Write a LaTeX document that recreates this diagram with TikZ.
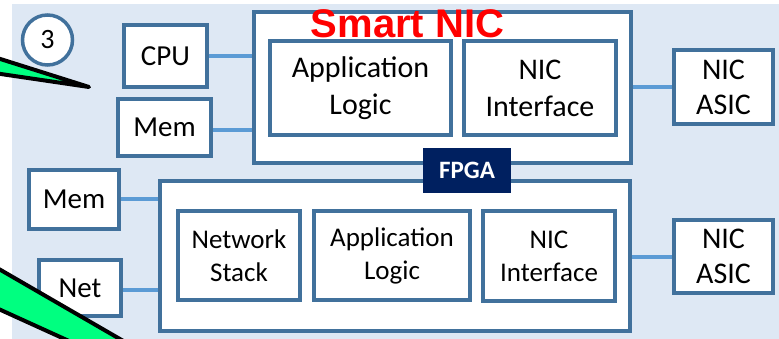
\documentclass[tikz,border=0pt]{standalone}
\usepackage{fontspec}
\setmainfont{Carlito}
\newfontfamily\headfont{Liberation Sans}
\usetikzlibrary{calc}
\definecolor{edgeblue}{HTML}{41719C}
\definecolor{linkblue}{HTML}{5B9BD5}
\definecolor{panelblue}{HTML}{DEE8F4}
\definecolor{navyfill}{HTML}{002060}
\definecolor{callgreen}{HTML}{00FF80}
\pgfdeclarelayer{bg}
\pgfsetlayers{bg,main}
\tikzset{
  blk/.style={draw=edgeblue, line width=4pt, fill=white, inner sep=0pt, align=center},
  link/.style={draw=linkblue, line width=4pt},
  sidetxt/.style={font=\fontsize{29}{35}\selectfont},
  toptxt/.style={font=\fontsize{30}{37}\selectfont},
  lowtxt/.style={font=\fontsize{27}{33}\selectfont},
  asictxt/.style={font=\fontsize{30}{35}\selectfont},
  wedge/.style={draw=black, line width=4pt, fill=callgreen, line join=round},
}
\begin{document}
\begin{tikzpicture}[x=1pt, y=-1pt]
\useasboundingbox (0,0) rectangle (779,339);

% panel background
\begin{pgfonlayer}{bg}
  \fill[panelblue] (12,4) rectangle (779,339);
\end{pgfonlayer}

% step marker
\node[draw=edgeblue, line width=3.5pt, fill=white, circle, minimum size=50pt, inner sep=0pt,
      font=\fontsize{28}{30}\selectfont] (mark) at (47.5,40) {3};

% host side, upper card
\node[blk, sidetxt, minimum width=83pt, minimum height=62pt] (cpu)  at (165.5,56)   {CPU};
\node[blk, sidetxt, minimum width=93pt, minimum height=57pt] (memA) at (164.5,127.5) {Mem};

% smart NIC board
\node[blk, minimum width=377pt, minimum height=151pt] (snic) at (442.5,87.5) {};
\node[blk, toptxt, minimum width=181pt, minimum height=94pt] (appA) at (360.5,88) {Application\\Logic};
\node[blk, toptxt, minimum width=152pt, minimum height=94pt] (nifA) at (540,88) {NIC\\Interface};
\node[font=\headfont\bfseries\fontsize{40}{40}\selectfont, text=red, inner sep=0pt, anchor=base]
  (title) at (407.5,38) {Smart NIC};

\node[blk, asictxt, minimum width=99pt, minimum height=74pt] (asicA) at (723.5,87) {NIC\\ASIC};

% FPGA board
\node[blk, minimum width=470pt, minimum height=150pt] (fpga) at (395,256) {};
\node[blk, lowtxt, minimum width=122pt, minimum height=89pt] (stack) at (239,255.5) {Network\\Stack};
\node[blk, lowtxt, minimum width=156pt, minimum height=89pt] (appB)  at (392,255.5) {Application\\Logic};
\node[blk, lowtxt, minimum width=132pt, minimum height=90pt] (nifB)  at (549,256)   {NIC\\Interface};

\node[blk, sidetxt, minimum width=90pt, minimum height=59pt] (memB) at (74,199.5) {Mem};
\node[blk, sidetxt, minimum width=82pt, minimum height=56pt] (net)  at (80,288)   {Net};
\node[blk, asictxt, minimum width=99pt, minimum height=73pt] (asicB) at (723.5,256.5) {NIC\\ASIC};

% FPGA tag
\node[fill=navyfill, text=white, font=\bfseries\fontsize{25}{25}\selectfont,
      minimum width=88pt, minimum height=45pt, inner sep=0pt] (tag) at (467,170.5) {FPGA};

% links between parts
\begin{pgfonlayer}{bg}
  \draw[link] (cpu.east) -- (cpu.east -| snic.west);
  \draw[link] ($(memA.east)+(0,2.5)$) -- ($(memA.east -| snic.west)+(0,2.5)$);
  \draw[link] (snic.east |- asicA.west) -- (asicA.west);
  \draw[link] (memB.east) -- (memB.east -| fpga.west);
  \draw[link] ($(net.east)+(0,2)$) -- ($(net.east -| fpga.west)+(0,2)$);
  \draw[link] (fpga.east |- asicB.west) -- (asicB.west);
\end{pgfonlayer}

% callout tails
\begin{scope}
  \clip (0,0) rectangle (779,339);
  \coordinate (tipA) at (89,87);
  \draw[wedge] (-6,57) -- (tipA) -- (-6,73) -- cycle;
  \draw[wedge] (-8,265) -- (132,346) -- (80,346) -- (-8,306) -- cycle;
\end{scope}
\end{tikzpicture}
\end{document}
